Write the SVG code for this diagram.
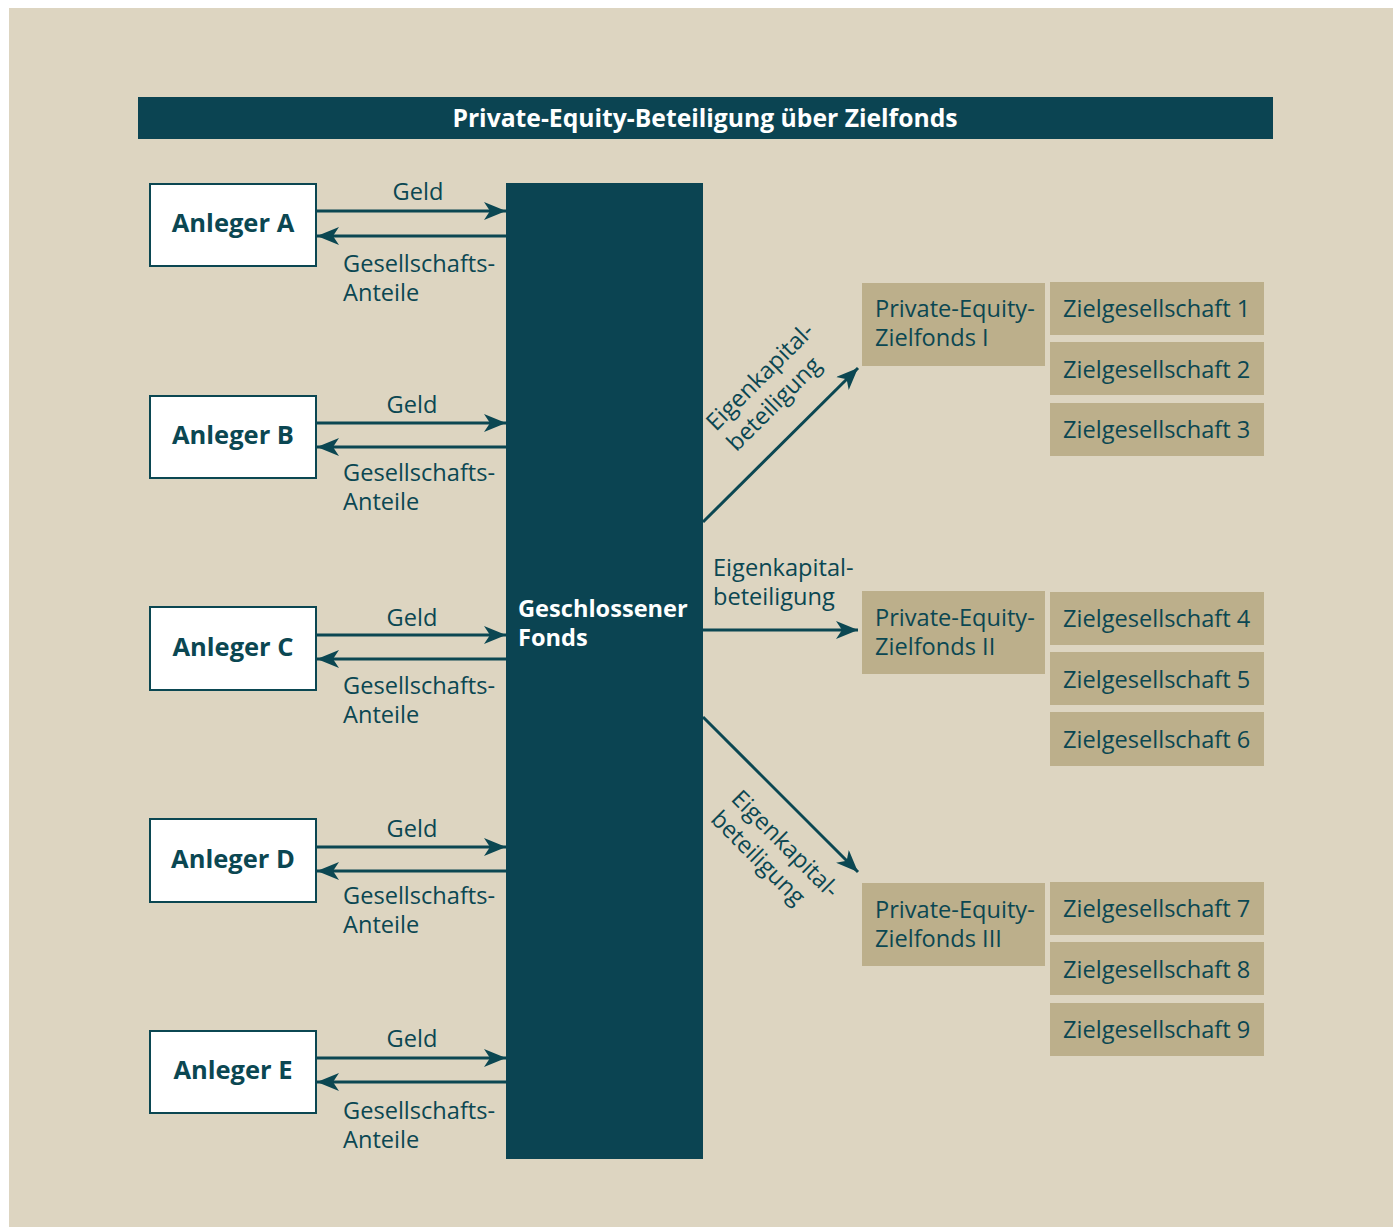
<svg xmlns="http://www.w3.org/2000/svg" width="1393" height="1227" viewBox="0 0 1393 1227">
<defs>
<style>
.t{font-family:"Open Sans","Noto Sans",sans-serif;fill:#0B4752;font-size:23.6px}
.b{font-weight:bold}
.an{font-size:25.5px}
.ti{font-size:24.7px}
.w{fill:#fff}
.box{fill:#fff;stroke:#0B4752;stroke-width:2}
.tan{fill:#BCAF8B}
.ln{stroke:#0B4752;stroke-width:3;fill:none}
</style>
<marker id="ah" viewBox="0 0 22 18" refX="22" refY="9" markerWidth="22" markerHeight="18" markerUnits="userSpaceOnUse" orient="auto">
<path d="M0,0 L22,9 L0,18 L6,9 Z" fill="#0B4752"/>
</marker>
</defs>
<rect x="0" y="0" width="1393" height="1227" fill="#fff"/>
<rect x="9" y="8" width="1384" height="1219" fill="#DDD5C1"/>
<g id="title">
<rect x="138" y="97" width="1135" height="42" fill="#0B4452"/>
<text class="t b w ti" x="705" y="127" text-anchor="middle">Private-Equity-Beteiligung über Zielfonds</text>
</g>
<g id="fonds">
<rect x="506" y="183" width="197" height="976" fill="#0B4452"/>
<text class="t b w" x="518" y="617">Geschlossener</text>
<text class="t b w" x="518" y="646">Fonds</text>
</g>
<g id="anlegerA"><rect class="box" x="150" y="184" width="166" height="82"/><text class="t b an" x="233" y="232" text-anchor="middle">Anleger A</text></g>
<g id="anlegerB"><rect class="box" x="150" y="396" width="166" height="82"/><text class="t b an" x="233" y="444" text-anchor="middle">Anleger B</text></g>
<g id="anlegerC"><rect class="box" x="150" y="607" width="166" height="83"/><text class="t b an" x="233" y="656" text-anchor="middle">Anleger C</text></g>
<g id="anlegerD"><rect class="box" x="150" y="819" width="166" height="83"/><text class="t b an" x="233" y="868" text-anchor="middle">Anleger D</text></g>
<g id="anlegerE"><rect class="box" x="150" y="1031" width="166" height="82"/><text class="t b an" x="233" y="1079" text-anchor="middle">Anleger E</text></g>
<g id="zf1"><rect class="tan" x="862" y="283" width="183" height="83"/><text class="t" x="875" y="317">Private-Equity-</text><text class="t" x="875" y="346">Zielfonds I</text></g>
<g id="zf2"><rect class="tan" x="862" y="591" width="183" height="83"/><text class="t" x="875" y="626">Private-Equity-</text><text class="t" x="875" y="655">Zielfonds II</text></g>
<g id="zf3"><rect class="tan" x="862" y="883" width="183" height="83"/><text class="t" x="875" y="918">Private-Equity-</text><text class="t" x="875" y="947">Zielfonds III</text></g>
<g id="zg1"><rect class="tan" x="1050" y="282" width="214" height="53"/><text class="t" x="1063" y="317">Zielgesellschaft 1</text></g>
<g id="zg2"><rect class="tan" x="1050" y="342" width="214" height="53"/><text class="t" x="1063" y="378">Zielgesellschaft 2</text></g>
<g id="zg3"><rect class="tan" x="1050" y="403" width="214" height="53"/><text class="t" x="1063" y="438">Zielgesellschaft 3</text></g>
<g id="zg4"><rect class="tan" x="1050" y="592" width="214" height="53"/><text class="t" x="1063" y="627">Zielgesellschaft 4</text></g>
<g id="zg5"><rect class="tan" x="1050" y="652" width="214" height="53"/><text class="t" x="1063" y="688">Zielgesellschaft 5</text></g>
<g id="zg6"><rect class="tan" x="1050" y="712" width="214" height="54"/><text class="t" x="1063" y="748">Zielgesellschaft 6</text></g>
<g id="zg7"><rect class="tan" x="1050" y="882" width="214" height="53"/><text class="t" x="1063" y="917">Zielgesellschaft 7</text></g>
<g id="zg8"><rect class="tan" x="1050" y="942" width="214" height="53"/><text class="t" x="1063" y="978">Zielgesellschaft 8</text></g>
<g id="zg9"><rect class="tan" x="1050" y="1003" width="214" height="53"/><text class="t" x="1063" y="1038">Zielgesellschaft 9</text></g>
<g id="connectors">
<line class="ln" x1="317" y1="211" x2="506" y2="211" marker-end="url(#ah)"/>
<line class="ln" x1="506" y1="236" x2="317" y2="236" marker-end="url(#ah)"/>
<line class="ln" x1="317" y1="423" x2="506" y2="423" marker-end="url(#ah)"/>
<line class="ln" x1="506" y1="447" x2="317" y2="447" marker-end="url(#ah)"/>
<line class="ln" x1="317" y1="635" x2="506" y2="635" marker-end="url(#ah)"/>
<line class="ln" x1="506" y1="659" x2="317" y2="659" marker-end="url(#ah)"/>
<line class="ln" x1="317" y1="847" x2="506" y2="847" marker-end="url(#ah)"/>
<line class="ln" x1="506" y1="871" x2="317" y2="871" marker-end="url(#ah)"/>
<line class="ln" x1="317" y1="1058" x2="506" y2="1058" marker-end="url(#ah)"/>
<line class="ln" x1="506" y1="1082" x2="317" y2="1082" marker-end="url(#ah)"/>
<line class="ln" x1="703" y1="522" x2="858" y2="368" marker-end="url(#ah)"/>
<line class="ln" x1="703" y1="630" x2="858" y2="630" marker-end="url(#ah)"/>
<line class="ln" x1="703" y1="717" x2="858" y2="872" marker-end="url(#ah)"/>
<text class="t" x="418" y="200" text-anchor="middle">Geld</text>
<text class="t" x="343" y="272">Gesellschafts-</text><text class="t" x="343" y="301">Anteile</text>
<text class="t" x="412" y="413" text-anchor="middle">Geld</text>
<text class="t" x="343" y="481">Gesellschafts-</text><text class="t" x="343" y="510">Anteile</text>
<text class="t" x="412" y="626" text-anchor="middle">Geld</text>
<text class="t" x="343" y="694">Gesellschafts-</text><text class="t" x="343" y="723">Anteile</text>
<text class="t" x="412" y="837" text-anchor="middle">Geld</text>
<text class="t" x="343" y="904">Gesellschafts-</text><text class="t" x="343" y="933">Anteile</text>
<text class="t" x="412" y="1047" text-anchor="middle">Geld</text>
<text class="t" x="343" y="1119">Gesellschafts-</text><text class="t" x="343" y="1148">Anteile</text>
<g transform="translate(716,432) rotate(-45)"><text class="t" x="0" y="0">Eigenkapital-</text><text class="t" x="0" y="29">beteiligung</text></g>
<text class="t" x="713" y="576">Eigenkapital-</text><text class="t" x="713" y="605">beteiligung</text>
<g transform="translate(730,800) rotate(45)"><text class="t" x="0" y="0">Eigenkapital-</text><text class="t" x="0" y="29">beteiligung</text></g>
</g>
</svg>
